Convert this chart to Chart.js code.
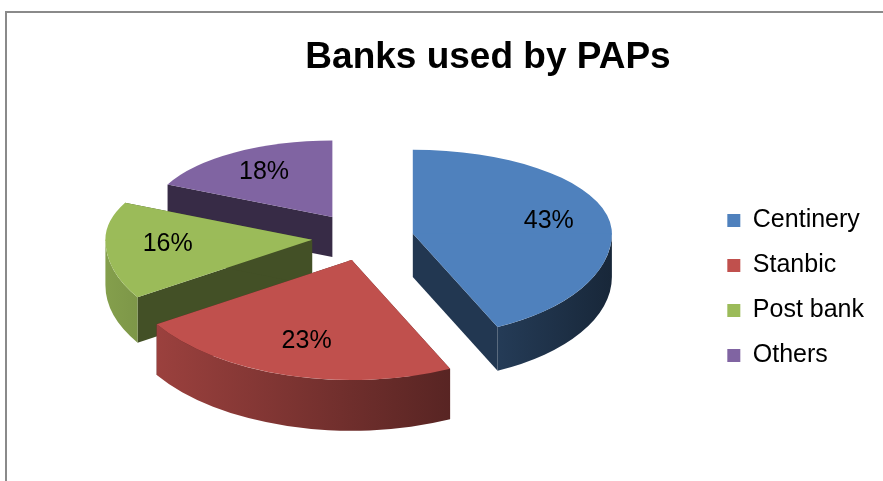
<!DOCTYPE html>
<html>
<head>
<meta charset="utf-8">
<style>
  html, body { margin: 0; padding: 0; background: #fff; }
  #wrap { position: relative; width: 883px; height: 481px; overflow: hidden; }
  #frame { position: absolute; left: 5px; top: 11px; width: 2000px; height: 2000px;
           border-left: 2px solid #8a8a8a; border-top: 2px solid #8a8a8a; pointer-events: none; }
  canvas { position: absolute; left: 0; top: 0; }
</style>
<script src="https://cdn.jsdelivr.net/npm/chart.js@4.4.1/dist/chart.umd.min.js"></script>
</head>
<body>
<div id="wrap">
  <canvas id="pie" width="883" height="481"></canvas>
  <div id="frame"></div>
</div>
<script>
// Chart data
const categories = ['Centinery', 'Stanbic', 'Post bank', 'Others'];
const shares = [43, 23, 16, 18];
const sliceColors = ['#4F81BD', '#C0504D', '#9BBB59', '#8064A2'];

const FONT = "'Liberation Sans', Arial, sans-serif";

function shade(hex, f) {
  const n = parseInt(hex.slice(1), 16);
  const r = Math.round(((n >> 16) & 255) * f);
  const g = Math.round(((n >> 8) & 255) * f);
  const b = Math.round((n & 255) * f);
  return `rgb(${r},${g},${b})`;
}

// fake 3D: squash the pie (far half flatter than near half), add walls under
// each slice, pull slices apart, make near slices a bit bigger than far ones
const pie3d = {
  id: 'pie3d',
  beforeDatasetsDraw(chart, args, opts) {
    const ctx = chart.ctx;
    const arcs = chart.getDatasetMeta(0).data;
    const ds = chart.data.datasets[0];
    const kFar = opts.squashFar, kNear = opts.squashNear;
    const cx = opts.center[0], cy = opts.center[1];
    const kOf = a => (Math.sin(a) > 0 ? kNear : kFar);

    const info = arcs.map((arc, i) => {
      const mid = (arc.startAngle + arc.endAngle) / 2;
      const t = opts.explode[i];
      const s = 1 + opts.persp * Math.sin(mid);
      return {
        arc, i, mid, s,
        depth: opts.depth * s,
        ox: cx + Math.cos(mid) * t,
        oy: cy + Math.sin(mid) * t * kOf(mid)
      };
    });

    // back slices first
    info.slice().sort((a, b) => a.oy - b.oy).forEach(sl => {
      const { arc, ox, oy, depth, s } = sl;
      const r = arc.outerRadius * s;
      const col = ds.backgroundColor[sl.i];

      // cut faces
      ctx.fillStyle = shade(col, opts.cutShade);
      [arc.startAngle, arc.endAngle].forEach(a => {
        const ex = ox + Math.cos(a) * r, ey = oy + Math.sin(a) * r * kOf(a);
        ctx.beginPath();
        ctx.moveTo(ox, oy);
        ctx.lineTo(ex, ey);
        ctx.lineTo(ex, ey + depth);
        ctx.lineTo(ox, oy + depth);
        ctx.closePath();
        ctx.fill();
      });

      // outer wall, front half only
      const a1 = Math.max(arc.startAngle, 0), a2 = Math.min(arc.endAngle, Math.PI);
      if (a2 > a1) {
        const g = ctx.createLinearGradient(ox - r, 0, ox + r, 0);
        g.addColorStop(0, shade(col, 0.85));
        g.addColorStop(1, shade(col, 0.3));
        ctx.fillStyle = g;
        ctx.beginPath();
        ctx.ellipse(ox, oy, r, r * kNear, 0, a1, a2);
        ctx.ellipse(ox, oy + depth, r, r * kNear, 0, a2, a1, true);
        ctx.closePath();
        ctx.fill();
      }

      // top face, drawn by the arc element itself: far half then near half
      [[kFar, 0, oy + 1], [kNear, oy, chart.height]].forEach(([kk, y0, y1]) => {
        ctx.save();
        ctx.beginPath();
        ctx.rect(0, y0, chart.width, y1 - y0);
        ctx.clip();
        ctx.translate(ox, oy);
        ctx.scale(s, s * kk);
        ctx.translate(-arc.x, -arc.y);
        arc.draw(ctx);
        ctx.restore();
      });
    });

    // percentage labels
    ctx.save();
    ctx.fillStyle = '#000';
    ctx.font = opts.labelFont;
    ctx.textAlign = 'center';
    ctx.textBaseline = 'middle';
    info.forEach(sl => {
      const rr = sl.arc.outerRadius * sl.s * opts.labelRadius;
      ctx.fillText(ds.data[sl.i] + '%',
        sl.ox + Math.cos(sl.mid) * rr,
        sl.oy + Math.sin(sl.mid) * rr * kOf(sl.mid));
    });
    ctx.restore();
    return false;
  }
};

new Chart(document.getElementById('pie'), {
  type: 'pie',
  data: {
    labels: categories,
    datasets: [{
      data: shares,
      backgroundColor: sliceColors,
      borderWidth: 0,
      radius: 205,
      clip: false
    }]
  },
  options: {
    responsive: false,
    animation: false,
    events: [],
    layout: { padding: { left: 102, right: 9, top: 15, bottom: -80 } },
    plugins: {
      title: {
        display: true,
        text: 'Banks used by PAPs',
        color: '#000',
        font: { family: FONT, size: 37, weight: 'bold' },
        padding: { top: 21, bottom: 10 }
      },
      legend: {
        position: 'right',
        labels: {
          color: '#000',
          boxWidth: 13,
          boxHeight: 13,
          padding: 20,
          font: { family: FONT, size: 25 }
        }
      },
      tooltip: { enabled: false },
      pie3d: {
        center: [364, 238],
        squashFar: 0.42,
        squashNear: 0.52,
        persp: 0.132,
        depth: 45,
        explode: [50, 44, 52, 59],
        cutShade: 0.43,
        labelRadius: 0.7,
        labelFont: '25px ' + FONT
      }
    }
  },
  plugins: [pie3d]
});
</script>
</body>
</html>
